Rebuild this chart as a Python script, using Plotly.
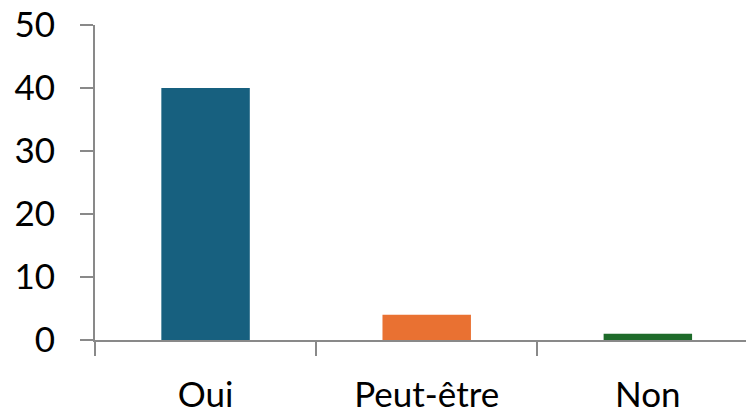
import plotly.graph_objects as go

# Data
categories = ["Oui", "Peut-être", "Non"]
values = [40, 4, 1]
bar_colors = ["#17607F", "#E97132", "#1E6B2A"]

fig = go.Figure(go.Bar(
    x=categories,
    y=values,
    marker=dict(color=bar_colors, line=dict(width=0)),
))

axis_grey = "#898989"

# page body has an 8px margin, so the figure is a bit smaller than the window
fig.update_layout(
    width=746, height=404,
    margin=dict(l=87, r=0, t=17, b=72),
    paper_bgcolor="white", plot_bgcolor="white",
    bargap=0.6,
    showlegend=False,
    font=dict(family="Lato", size=35, color="black"),
)
fig.update_xaxes(
    range=[-0.5, 2.48], automargin=False,
    showline=True, linecolor=axis_grey, linewidth=2,
    ticks="outside", tickson="boundaries", ticklen=14, tickwidth=2, tickcolor=axis_grey,
    ticklabelstandoff=23, ticklabeloverflow="allow",
    showgrid=False, zeroline=False,
)
fig.update_yaxes(
    range=[0, 50], dtick=10, automargin=False,
    showline=True, linecolor=axis_grey, linewidth=2,
    ticks="outside", ticklen=13, tickwidth=2, tickcolor=axis_grey,
    ticklabelstandoff=18, ticklabeloverflow="allow",
    showgrid=False, zeroline=False,
)

fig.write_html("out.html")
